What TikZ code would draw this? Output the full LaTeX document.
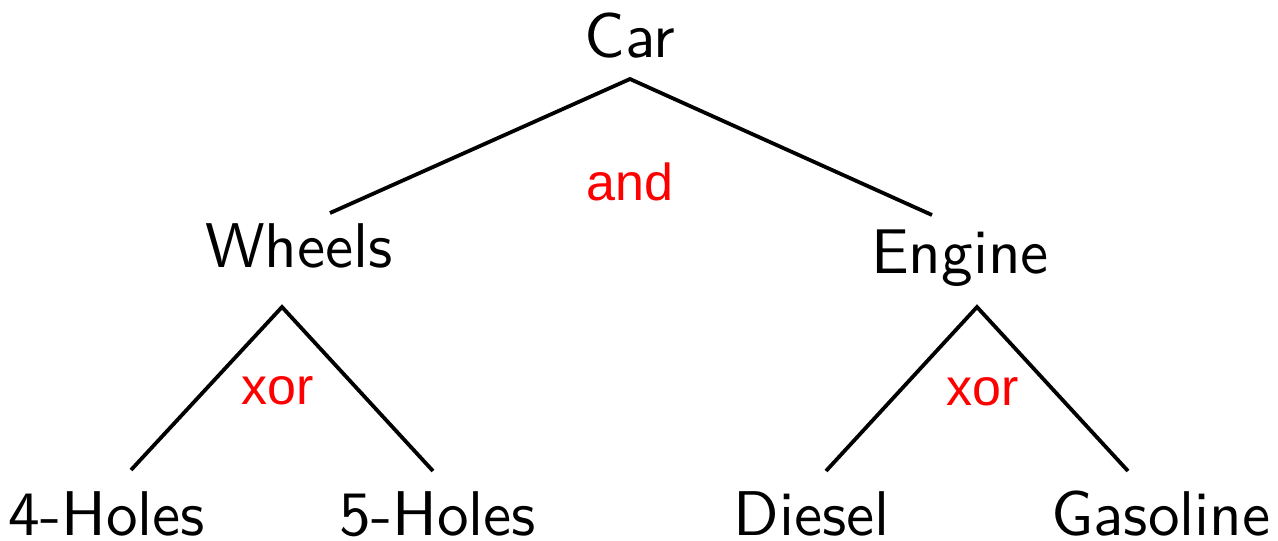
\documentclass[tikz,border=0pt]{standalone}
\usepackage{fontspec}
\newfontfamily\featfont{lmsans10-regular.otf}
\newfontfamily\opfont{Liberation Sans}
\tikzset{
  feature/.style={anchor=base, inner sep=0pt, font=\featfont\fontsize{15.8}{19}\selectfont},
  op/.style={anchor=base, inner sep=0pt, text=red, font=\opfont\fontsize{13}{15}\selectfont},
  edge/.style={draw=black, line width=0.95pt}
}
\begin{document}
\begin{tikzpicture}[x=0.25pt, y=-0.25pt]
\useasboundingbox (0,0) rectangle (1278,540);
% features
\node[feature] (car) at (630,57) {Car};
\node[feature] (wheels) at (299,267) {Wheels};
\node[feature] (engine) at (960,273) {Engine};
\node[feature] (h4) at (107,535) {4-Holes};
\node[feature] (h5) at (438,535) {5-Holes};
\node[feature] (diesel) at (812,535) {Diesel};
\node[feature] (gasoline) at (1161,535) {Gasoline};
% group kinds
\node[op] (and) at (630,200) {and};
\node[op] (xorw) at (278,404) {xor};
\node[op] (xore) at (983,405) {xor};
% attachment points of the edges
\coordinate (car-top) at (630,79);
\coordinate (wheels-in) at (330,213);
\coordinate (engine-in) at (932,215);
\coordinate (wheels-top) at (282,307);
\coordinate (h4-in) at (131,470);
\coordinate (h5-in) at (433,471);
\coordinate (engine-top) at (977,307);
\coordinate (diesel-in) at (826,471);
\coordinate (gasoline-in) at (1128,471);
% edges
\draw[edge] (wheels-in) -- (car-top) -- (engine-in);
\draw[edge] (h4-in) -- (wheels-top) -- (h5-in);
\draw[edge] (diesel-in) -- (engine-top) -- (gasoline-in);
\end{tikzpicture}
\end{document}
